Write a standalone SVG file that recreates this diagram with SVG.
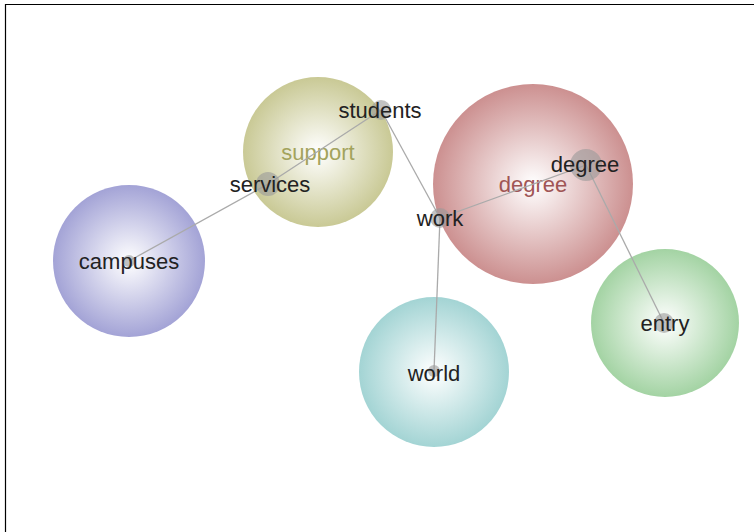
<svg xmlns="http://www.w3.org/2000/svg" width="754" height="532" viewBox="0 0 754 532">
<defs>
<radialGradient id="gY"><stop offset="0" stop-color="#ffffff"/><stop offset="1" stop-color="#c9c995"/></radialGradient>
<radialGradient id="gR"><stop offset="0" stop-color="#ffffff"/><stop offset="1" stop-color="#cc9090"/></radialGradient>
<radialGradient id="gB"><stop offset="0" stop-color="#ffffff"/><stop offset="1" stop-color="#a3a3d6"/></radialGradient>
<radialGradient id="gT"><stop offset="0" stop-color="#ffffff"/><stop offset="1" stop-color="#a3d4d4"/></radialGradient>
<radialGradient id="gG"><stop offset="0" stop-color="#ffffff"/><stop offset="1" stop-color="#a3d3a3"/></radialGradient>
</defs>
<style>
text{font-family:"Liberation Sans",Arial,sans-serif;font-size:22px;text-anchor:middle;dominant-baseline:central}
.w{fill:#222}
.dot{fill:#999;fill-opacity:0.6}
.e{stroke:#aaa;stroke-width:1.3;fill:none}
</style>
<rect x="0" y="0" width="754" height="532" fill="#fff"/>
<path d="M5.5 532 V4.5 H754" fill="none" stroke="#000" stroke-width="1.2"/>
<g id="clusters">
<g id="c-support"><circle cx="318" cy="152" r="75" fill="url(#gY)"/><text x="318" y="152" fill="#a3a35c">support</text></g>
<g id="c-degree"><circle cx="533" cy="184" r="100" fill="url(#gR)"/><text x="533" y="184" fill="#a05555">degree</text></g>
<g id="c-campuses"><circle cx="129" cy="261" r="76" fill="url(#gB)"/></g>
<g id="c-world"><circle cx="434" cy="372" r="75" fill="url(#gT)"/></g>
<g id="c-entry"><circle cx="665" cy="323" r="74" fill="url(#gG)"/></g>
</g>
<g id="connectors">
<line class="e" x1="129" y1="261" x2="268" y2="184"/>
<line class="e" x1="268" y1="184" x2="381" y2="110"/>
<line class="e" x1="381" y1="110" x2="440" y2="218"/>
<line class="e" x1="440" y1="218" x2="586" y2="165"/>
<line class="e" x1="440" y1="218" x2="434" y2="371"/>
<line class="e" x1="586" y1="165" x2="664" y2="323"/>
</g>
<g id="students"><circle class="dot" cx="381" cy="110" r="10"/><text class="w" x="380" y="110">students</text></g>
<g id="services"><circle class="dot" cx="268" cy="184" r="12"/><text class="w" x="270" y="184">services</text></g>
<g id="work"><circle class="dot" cx="440" cy="218" r="10"/><text class="w" x="440" y="218">work</text></g>
<g id="degree"><circle class="dot" cx="586" cy="165" r="16"/><text class="w" x="585" y="164">degree</text></g>
<g id="campuses"><circle class="dot" cx="129" cy="261" r="6"/><text class="w" x="129" y="261">campuses</text></g>
<g id="world"><circle class="dot" cx="434" cy="371" r="6"/><text class="w" x="434" y="373">world</text></g>
<g id="entry"><circle class="dot" cx="664" cy="323" r="10"/><text class="w" x="665" y="323">entry</text></g>
</svg>
